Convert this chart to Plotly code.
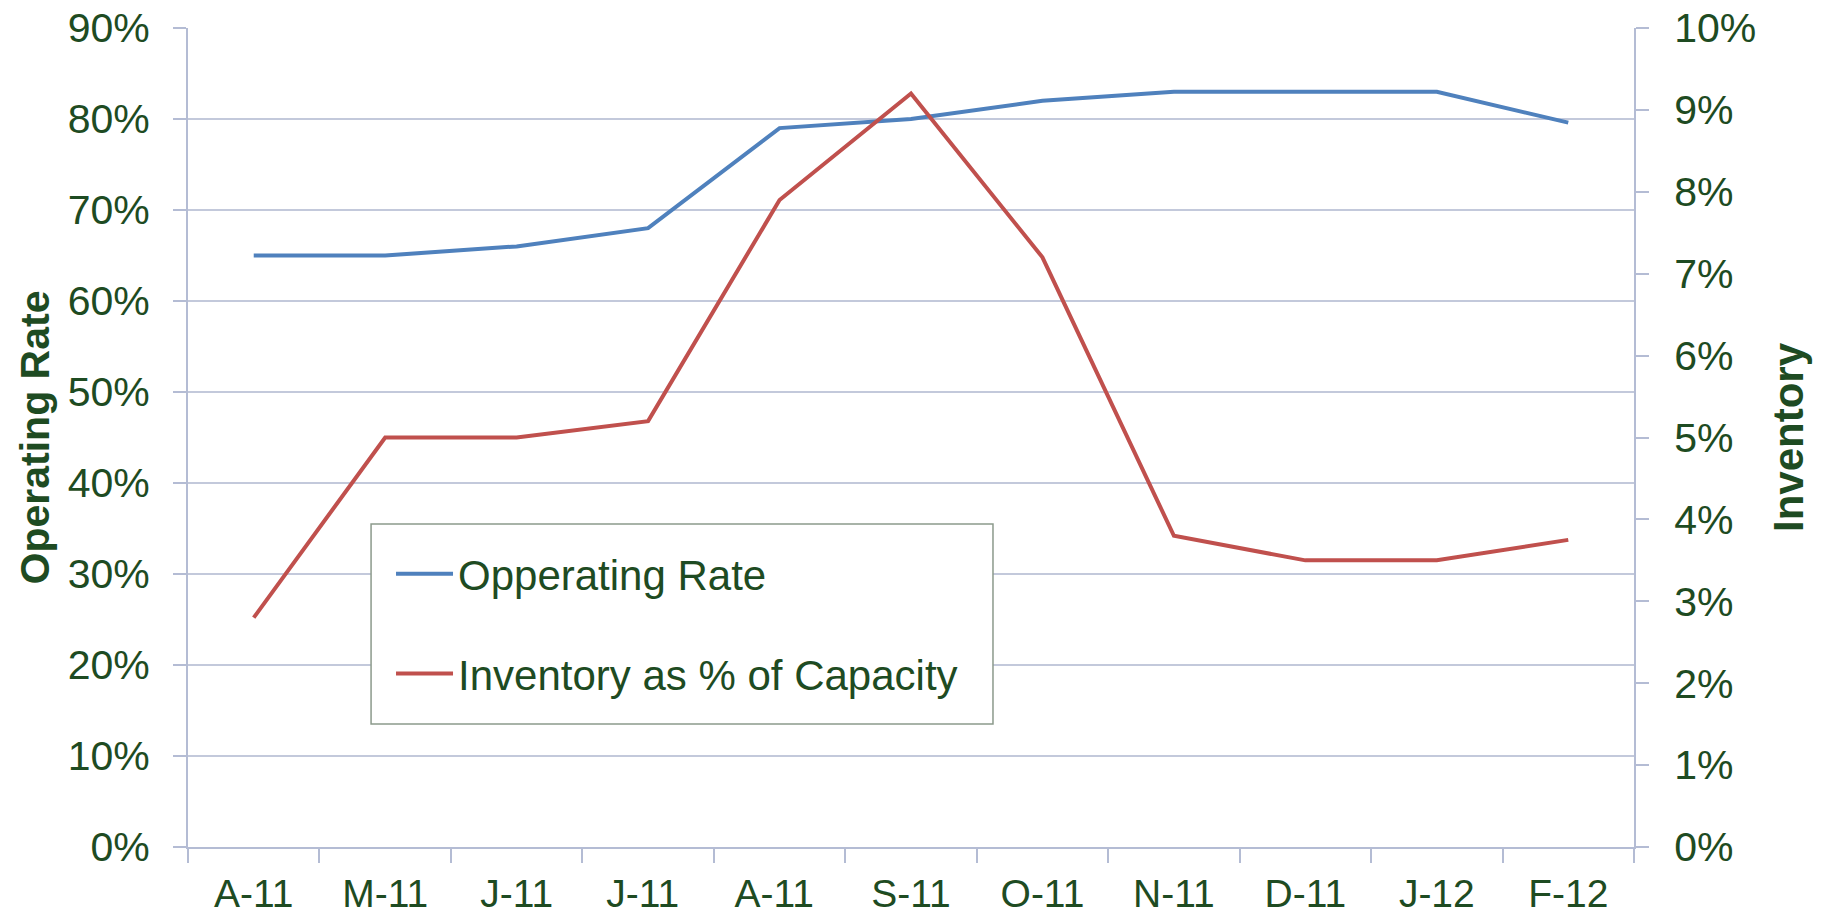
import plotly.graph_objects as go

categories = ["A-11", "M-11", "J-11", "J-11 ", "A-11 ", "S-11", "O-11", "N-11", "D-11", "J-12", "F-12"]
operating_rate = [65, 65, 66, 68, 79, 80, 82, 83, 83, 83, 79.6]
inventory_pct = [2.8, 5.0, 5.0, 5.2, 7.9, 9.2, 7.2, 3.8, 3.5, 3.5, 3.75]

GREEN = "#1E4B22"
GRID = "#C3C9DB"
AXIS = "#B4BCD4"
FONT = "Liberation Sans, Arial, sans-serif"

fig = go.Figure()
fig.add_trace(go.Scatter(x=categories, y=operating_rate, mode="lines",
                         name="Opperating Rate", legendgroup="a",
                         line=dict(color="#4F81BD", width=4)))
fig.add_trace(go.Scatter(x=categories, y=inventory_pct, mode="lines",
                         name="Inventory as % of Capacity", legendgroup="b",
                         line=dict(color="#C0504D", width=4), yaxis="y2"))

fig.update_layout(
    width=1833, height=918,
    margin=dict(l=188, r=199, t=28, b=71, autoexpand=False),
    paper_bgcolor="white", plot_bgcolor="white",
    font=dict(family=FONT, color=GREEN, size=39),
    xaxis=dict(
        type="category", range=[-0.5, 10.5], automargin=False,
        showline=True, linecolor=AXIS, linewidth=2,
        ticks="outside", tickson="boundaries", ticklen=14, tickcolor=AXIS, tickwidth=1.5,
        showgrid=False, tickfont=dict(size=39, color=GREEN),
        ticklabelstandoff=11, ticklabeloverflow="allow",
    ),
    yaxis=dict(
        range=[0, 90], dtick=10, ticksuffix="%", automargin=False,
        showline=True, linecolor=AXIS, linewidth=2,
        ticks="outside", ticklen=13, tickcolor=AXIS, tickwidth=1.5,
        showgrid=True, gridcolor=GRID, gridwidth=2,
        zeroline=False,
        tickfont=dict(size=41, color=GREEN),
        ticklabelstandoff=15, ticklabeloverflow="allow",
        title=dict(text="<b>Operating Rate</b>", font=dict(size=41, color=GREEN), standoff=5),
    ),
    yaxis2=dict(
        range=[0, 10], dtick=1, ticksuffix="%", automargin=False,
        overlaying="y", side="right",
        showline=True, linecolor=AXIS, linewidth=2,
        ticks="outside", ticklen=13, tickcolor=AXIS, tickwidth=1.5,
        showgrid=False, zeroline=False,
        tickfont=dict(size=41, color=GREEN),
        ticklabelstandoff=17, ticklabeloverflow="allow",
        title=dict(text="<b>Inventory</b>", font=dict(size=42, color=GREEN), standoff=18),
    ),
    legend=dict(
        x=0.1404, y=0.3748, xanchor="left", yanchor="top",
        bgcolor="rgba(0,0,0,0)", borderwidth=0,
        font=dict(size=42, color=GREEN),
        tracegroupgap=42, itemwidth=57,
    ),
    shapes=[dict(type="rect", xref="paper", yref="paper",
                 x0=0.1266, x1=0.5567, y0=0.1502, y1=0.3944,
                 fillcolor="white", line=dict(color="#8C9A8C", width=1.5),
                 layer="above")],
    showlegend=True,
)

# remove the default 8px page margin so the figure sits at the page origin
fig.write_html("out.html", config={"displayModeBar": False},
               post_script="document.body.style.margin='0px';")
